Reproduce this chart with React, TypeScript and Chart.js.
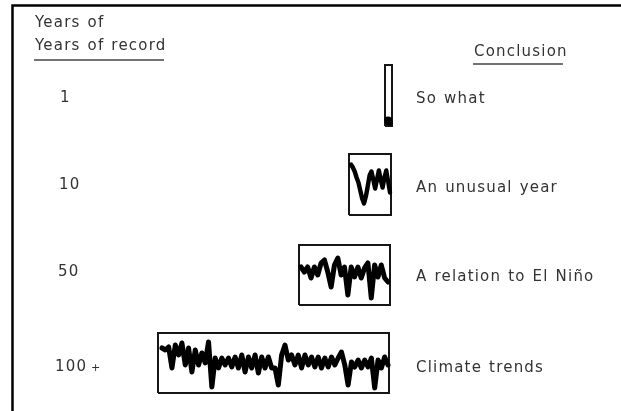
import React, { useEffect, useRef } from 'react';
import { Chart, registerables } from 'chart.js';

Chart.register(...registerables);

// Row labels and conclusions
const recordLabels = ['1', '10', '50', '100 +'];
const conclusions = ['So what', 'An unusual year', 'A relation to El Niño', 'Climate trends'];

// Box extents per row (figure units)
const boxLeft = [385, 349, 299, 158];
const boxRight = [392, 391, 390, 389];
const boxTop = [65, 154, 245, 333];
const boxBottom = [126, 215, 305, 393];

// Horizontal span of each record trace
const traceStart = [387, 351, 301, 162];
const traceEnd = [390, 390, 388, 388];

// Record anomalies (positive = up)
const record1 = [-24, -27, -24, -27];
const record10 = [20, 17, 13, 7, 2, -6, -14, -19, -12, -2, 9, 13, 5, -4, 5, 14, 5, -3, 7, 14, 3, -8];
const record50 = [8, 3, 8, -3, 8, 0, 12, 15, 3, -12, 10, 17, 0, 8, -20, 8, -2, 8, -3, 7, 12, -23, 10, -2, 10, -3, -7];
const record100 = [
  15, 13, 16, -5, 18, 8, 20, -2, 15, -9, 13, -2, 10, 0, 21, -24, 5, -5, 5, -2, 5, -4, 6, -5, 8, -9, 6, -5, 8, -10, 6, -5, 6, -5,
  -5, -22, 8, 18, 3, 8, -2, 8, -5, 8, -2, 6, -4, 6, -5, 5, -4, 6, -2, 5, 11, -2, -22, 1, -4, 3, -5, 3, -4, 5, -25, 3, -5, 6, -2,
];
const records = [record1, record10, record50, record100];
const traceWidth = [6, 4.4, 5, 5];

// Label rows (vertical positions of the text in figure units)
const labelY = [98, 185, 272, 367];
const conclusionY = [99, 188, 277, 368];
const labelX = [60, 59, 58, 55];

// Header texts
const headerLeft = ['Years of', 'Years of record'];
const headerRight = 'Conclusion';

const W = 621;
const H = 411;
const FONT = '15px "DejaVu Sans"';
const SMALL_FONT = '11px "DejaVu Sans"';
const TEXT_COLOR = '#333';

const textPlugin = {
  id: 'figureText',
  afterDraw(chart: any) {
    const { ctx, scales } = chart;
    const xs = scales.x;
    const ys = scales.y;
    const px = (v: number) => xs.getPixelForValue(v);
    const py = (v: number) => ys.getPixelForValue(v);
    ctx.save();
    // frame (left and top)
    ctx.strokeStyle = '#000';
    ctx.lineWidth = 2.5;
    ctx.beginPath();
    ctx.moveTo(px(12.5), py(H));
    ctx.lineTo(px(12.5), py(5.5));
    ctx.lineTo(px(W), py(5.5));
    ctx.stroke();

    ctx.font = FONT;
    ctx.fillStyle = TEXT_COLOR;
    ctx.textBaseline = 'middle';
    ctx.textAlign = 'left';
    try {
      (ctx as any).letterSpacing = '1.2px';
      (ctx as any).wordSpacing = '1px';
    } catch (e) {}

    ctx.fillText(headerLeft[0], px(35), py(23));
    ctx.fillText(headerLeft[1], px(35), py(46));
    ctx.fillText(headerRight, px(474), py(52));

    // underlines
    ctx.strokeStyle = '#444';
    ctx.lineWidth = 1.5;
    ctx.beginPath();
    ctx.moveTo(px(34), py(60));
    ctx.lineTo(px(164), py(60));
    ctx.moveTo(px(473), py(64));
    ctx.lineTo(px(563), py(64));
    ctx.stroke();

    for (let i = 0; i < recordLabels.length; i++) {
      const parts = recordLabels[i].split(' ');
      let x = px(labelX[i]);
      ctx.font = FONT;
      ctx.fillText(parts[0], x, py(labelY[i]));
      if (parts.length > 1) {
        x += ctx.measureText(parts[0]).width + 3;
        ctx.font = SMALL_FONT;
        ctx.fillText(' ' + parts.slice(1).join(' '), x - 4, py(labelY[i] + 1));
        ctx.font = FONT;
      }
      ctx.fillText(conclusions[i], px(416), py(conclusionY[i]));
    }
    ctx.restore();
  },
};

export default function App() {
  const ref = useRef<HTMLCanvasElement | null>(null);

  useEffect(() => {
    if (!ref.current) return;
    const datasets: any[] = [];
    for (let i = 0; i < records.length; i++) {
      const L = boxLeft[i], R = boxRight[i], T = boxTop[i], B = boxBottom[i];
      const vals = records[i];
      const cy = (T + B) / 2;
      const n = vals.length;
      const step = n > 1 ? (traceEnd[i] - traceStart[i]) / (n - 1) : 0;
      datasets.push({
        data: vals.map((v, k) => ({ x: traceStart[i] + k * step, y: cy - v })),
        showLine: true,
        borderColor: '#000',
        borderWidth: traceWidth[i],
        borderJoinStyle: 'round',
        borderCapStyle: 'round',
        pointRadius: 0,
        fill: false,
        tension: 0,
      });
      datasets.push({
        data: [
          { x: L, y: B },
          { x: L, y: T },
          { x: R, y: T },
          { x: R, y: B },
          { x: L, y: B },
        ],
        showLine: true,
        borderColor: '#161616',
        borderWidth: 2,
        borderJoinStyle: 'miter',
        pointRadius: 0,
        fill: false,
      });
    }

    const chart = new Chart(ref.current, {
      type: 'scatter',
      data: { datasets },
      options: {
        animation: false,
        responsive: true,
        maintainAspectRatio: false,
        events: [],
        layout: { padding: 0 },
        plugins: { legend: { display: false }, tooltip: { enabled: false } },
        scales: {
          x: { type: 'linear', min: 0, max: W, display: false },
          y: { type: 'linear', min: 0, max: H, reverse: true, display: false },
        },
      },
      plugins: [textPlugin],
    });
    return () => chart.destroy();
  }, []);

  return (
    <div style={{ position: 'absolute', left: 0, top: 0, width: W, height: H, background: '#fff' }}>
      <canvas ref={ref} />
    </div>
  );
}
